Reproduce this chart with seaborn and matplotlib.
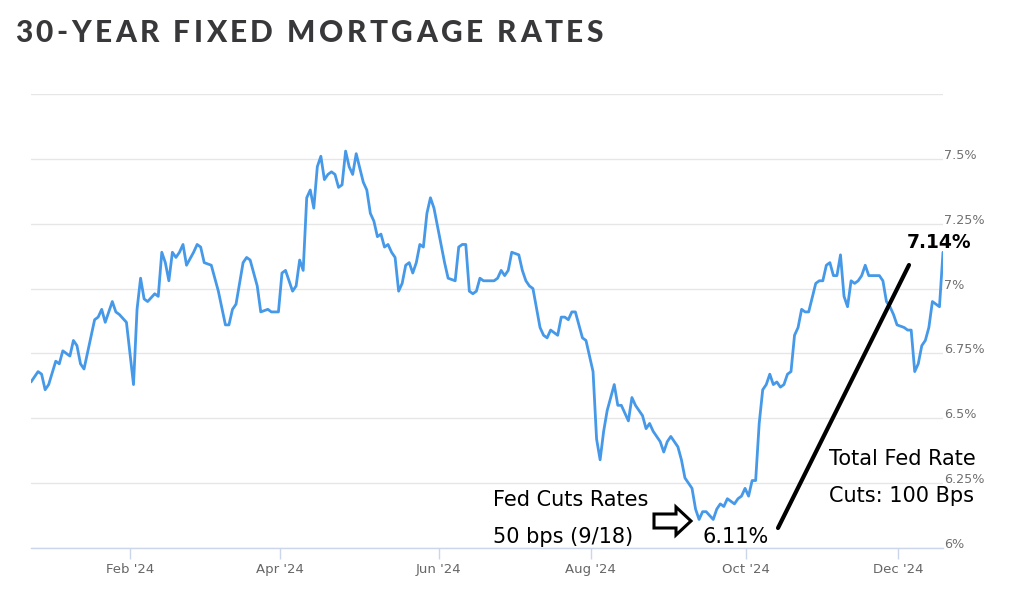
import seaborn as sns
import matplotlib.pyplot as plt
from matplotlib.lines import Line2D
from matplotlib.patches import FancyArrow

# trading sessions (first point = 0) and 30-year fixed rate in %
session = [0, 2, 3, 4, 5, 7, 8, 9, 11, 12, 13, 14, 15, 18, 19, 20, 21, 23, 24, 25,
           27, 29, 30, 31, 32, 33, 35, 36, 37, 38, 39, 40, 41, 42, 43, 44, 46, 47, 48, 49,
           51, 53, 55, 56, 57, 58, 60, 61, 62, 64, 65, 67, 68, 70, 71, 72, 74, 75, 76, 77,
           78, 79, 80, 81, 82, 83, 84, 85, 86, 87, 88, 89, 90, 91, 92, 94, 95, 96, 97, 98,
           99, 100, 101, 102, 103, 104, 105, 106, 107, 108, 109, 110, 111, 112, 113, 114, 116, 117, 118, 120,
           121, 122, 123, 124, 125, 126, 127, 128, 129, 131, 132, 133, 134, 135, 136, 138, 139, 140, 141, 142,
           144, 145, 146, 147, 148, 149, 150, 151, 152, 153, 154, 155, 156, 157, 159, 160, 161, 162, 163, 165,
           166, 167, 168, 169, 170, 171, 173, 174, 175, 176, 177, 178, 179, 180, 181, 183, 184, 185, 187, 188,
           189, 190, 191, 193, 194, 195, 196, 197, 199, 200, 201, 202, 203, 204, 205, 206, 207, 208, 209, 210,
           211, 212, 213, 214, 215, 216, 217, 218, 219, 220, 222, 223, 224, 225, 226, 227, 228, 229, 230, 231,
           232, 233, 234, 235, 236, 237, 238, 240, 241, 242, 243, 244, 245, 247, 248, 249, 250, 251, 252, 253,
           254, 255, 256, 257, 258]
rate = [6.64, 6.68, 6.67, 6.61, 6.63, 6.72, 6.71, 6.76, 6.74, 6.80, 6.78, 6.71, 6.69, 6.88, 6.89, 6.92, 6.87, 6.95, 6.91, 6.90,
        6.87, 6.63, 6.92, 7.04, 6.96, 6.95, 6.98, 6.97, 7.14, 7.10, 7.03, 7.14, 7.12, 7.14, 7.17, 7.09, 7.14, 7.17, 7.16, 7.10,
        7.09, 6.99, 6.86, 6.86, 6.92, 6.94, 7.10, 7.12, 7.11, 7.01, 6.91, 6.92, 6.91, 6.91, 7.06, 7.07, 6.99, 7.01, 7.11, 7.07,
        7.35, 7.38, 7.31, 7.47, 7.51, 7.42, 7.44, 7.45, 7.44, 7.39, 7.40, 7.53, 7.47, 7.44, 7.52, 7.41, 7.38, 7.29, 7.26, 7.20,
        7.21, 7.16, 7.17, 7.14, 7.12, 6.99, 7.02, 7.09, 7.10, 7.06, 7.10, 7.17, 7.16, 7.29, 7.35, 7.31, 7.17, 7.10, 7.04, 7.03,
        7.16, 7.17, 7.17, 6.99, 6.98, 6.99, 7.04, 7.03, 7.03, 7.03, 7.04, 7.07, 7.05, 7.07, 7.14, 7.13, 7.07, 7.03, 7.01, 7.00,
        6.85, 6.82, 6.81, 6.84, 6.83, 6.82, 6.89, 6.89, 6.88, 6.91, 6.91, 6.86, 6.81, 6.80, 6.68, 6.42, 6.34, 6.45, 6.53, 6.63,
        6.55, 6.55, 6.52, 6.49, 6.58, 6.55, 6.51, 6.46, 6.48, 6.45, 6.43, 6.41, 6.37, 6.41, 6.43, 6.39, 6.34, 6.27, 6.23, 6.15,
        6.11, 6.14, 6.14, 6.11, 6.15, 6.17, 6.16, 6.19, 6.17, 6.19, 6.20, 6.23, 6.20, 6.26, 6.26, 6.48, 6.61, 6.63, 6.67, 6.63,
        6.64, 6.62, 6.63, 6.67, 6.68, 6.82, 6.85, 6.92, 6.91, 6.91, 7.02, 7.03, 7.03, 7.09, 7.10, 7.05, 7.05, 7.13, 6.97, 6.93,
        7.03, 7.02, 7.03, 7.05, 7.09, 7.05, 7.05, 7.05, 7.03, 6.95, 6.93, 6.90, 6.86, 6.85, 6.84, 6.84, 6.68, 6.71, 6.78, 6.80,
        6.85, 6.95, 6.94, 6.93, 7.14]

month_ticks = [28, 70.3, 115.3, 158.4, 202.3, 245.3]
month_labels = ["Feb '24", "Apr '24", "Jun '24", "Aug '24", "Oct '24", "Dec '24"]
rate_ticks = [6, 6.25, 6.5, 6.75, 7, 7.25, 7.5, 7.75]
rate_labels = ["6%", "6.25%", "6.5%", "6.75%", "7%", "7.25%", "7.5%", ""]

TITLE = "30-YEAR FIXED MORTGAGE RATES"

sns.set_theme(style="white")
W, H = 1024, 597
fig = plt.figure(figsize=(W / 100, H / 100), dpi=100)
ax = fig.add_axes([31 / W, 1 - 548 / H, (943 - 31) / W, (548 - 94) / H])

sns.lineplot(x=session, y=rate, ax=ax, color="#4599e8", linewidth=2.0)

ax.set_xlim(0, 258)
ax.set_ylim(6, 7.75)
ax.set_xticks(month_ticks)
ax.set_xticklabels(month_labels)
ax.set_yticks(rate_ticks)
ax.set_yticklabels(rate_labels)
ax.yaxis.tick_right()
ax.yaxis.grid(True, color="#e6e6e6", linewidth=1)
ax.set_xlabel("")
ax.set_ylabel("")
for side in ["top", "left", "right"]:
    ax.spines[side].set_visible(False)
ax.spines["bottom"].set_color("#ccd6eb")
ax.spines["bottom"].set_linewidth(1)
ax.tick_params(axis="x", length=8, width=1, color="#ccd6eb", labelcolor="#666666",
               labelsize=9.5, pad=3, bottom=True)
ax.tick_params(axis="y", length=0, labelcolor="#707070", labelsize=9.2, pad=1)
for lbl in ax.get_yticklabels():
    lbl.set_verticalalignment("baseline")

# spaced-out title, one glyph at a time
renderer = fig.canvas.get_renderer()
glyphs = []
widths = []
for ch in TITLE:
    t = fig.text(0, 1 - 33 / H, ch, fontsize=21.5, fontweight="black", family="Lato",
                 color="#38383a", va="center", ha="left")
    glyphs.append(t)
    if ch == " ":
        widths.append(7)
    else:
        widths.append(t.get_window_extent(renderer).width)
track = (603 - 15 - sum(widths)) / (len(TITLE) - 1)
x = 15
for t, w in zip(glyphs, widths):
    t.set_x(x / W)
    x += w + track

# hand-written notes
note = dict(fontsize=15, color="black", va="center", ha="left")
fig.text(493 / W, 1 - 500 / H, "Fed Cuts Rates", **note)
fig.text(493 / W, 1 - 537 / H, "50 bps (9/18)", **note)
fig.text(703 / W, 1 - 537 / H, "6.11%", **note)
fig.text(829 / W, 1 - 459 / H, "Total Fed Rate", **note)
fig.text(829 / W, 1 - 496 / H, "Cuts: 100 Bps", **note)
fig.text(907 / W, 1 - 242 / H, "7.14%", fontsize=13.5, fontweight="bold",
         color="black", va="center", ha="left")

fig.add_artist(FancyArrow(6.54, (H - 521) / 100, 0.37, 0, width=0.14, head_width=0.28,
                          head_length=0.15, length_includes_head=True,
                          transform=fig.dpi_scale_trans, facecolor="white",
                          edgecolor="black", linewidth=2.2))
fig.add_artist(Line2D([7.78, 9.09], [(H - 528) / 100, (H - 265) / 100],
                      transform=fig.dpi_scale_trans, color="black", linewidth=3))

fig.savefig("out.png", dpi=100)
